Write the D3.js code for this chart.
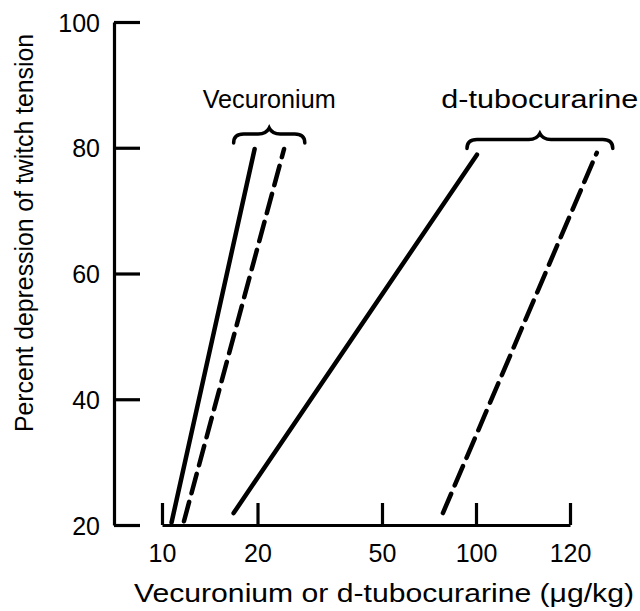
<!DOCTYPE html>
<html>
<head>
<meta charset="utf-8">
<script src="https://cdn.jsdelivr.net/npm/d3@7"></script>
<style>
  html, body { margin: 0; padding: 0; background: #fff; }
  svg text { font-family: "Liberation Sans", Arial, sans-serif; fill: #000; }
</style>
</head>
<body>
<svg id="chart" width="640" height="611"></svg>
<script>
// axis ticks
var xTicks = [10, 20, 50, 100, 120];
var yTicks = [20, 40, 60, 80, 100];

// dose (ug/kg) vs percent depression, two ends of each fitted line
var vecuroniumSolid = [{dose: 11.0, pct: 20.4}, {dose: 19.7, pct: 79.8}];
var vecuroniumDashed = [{dose: 12.3, pct: 20.6}, {dose: 26.4, pct: 79.8}];
var tubocurarineSolid = [{dose: 17.5, pct: 21.9}, {dose: 100.2, pct: 78.9}];
var tubocurarineDashed = [{dose: 82.4, pct: 21.9}, {dose: 125.7, pct: 79.2}];

// group labels and the braces above them (dose span, height in percent)
var groupNames = ['Vecuronium', 'd-tubocurarine'];
var braceSpans = [[17.5, 31.4], [95.2, 129.1]];
var braceLevels = [82.2, 81.3];

var svg = d3.select('#chart');

// the dose axis is drawn with uneven spacing, map it piece by piece
var x = d3.scaleLinear().domain(xTicks).range([162, 257.5, 382, 476, 570]);
var y = d3.scaleLinear().domain([20, 100]).range([525, 22]);

var yAxis = svg.append('g')
    .attr('transform', 'translate(114,0)')
    .call(d3.axisLeft(y).tickValues(yTicks).tickSizeInner(-26).tickSizeOuter(0).tickPadding(14));
var xAxis = svg.append('g')
    .attr('transform', 'translate(0,525)')
    .call(d3.axisBottom(x).tickValues(xTicks).tickSizeInner(-22).tickSizeOuter(0).tickPadding(19));

[yAxis, xAxis].forEach(function (g) {
    g.select('.domain').attr('stroke', '#000').attr('stroke-width', 3.2);
    g.selectAll('.tick line').attr('stroke', '#000').attr('stroke-width', 3.2);
    g.selectAll('.tick text')
        .attr('font-family', '"Liberation Sans", Arial, sans-serif')
        .attr('font-size', 25)
        .attr('fill', '#000');
});
yAxis.selectAll('.tick text').attr('dy', '0.36em');

var line = d3.line()
    .x(function (d) { return x(d.dose); })
    .y(function (d) { return y(d.pct); });

var series = [
    {data: vecuroniumSolid, dash: null},
    {data: vecuroniumDashed, dash: '20,9'},
    {data: tubocurarineSolid, dash: null},
    {data: tubocurarineDashed, dash: '21,9'}
];
svg.append('g').selectAll('path')
    .data(series)
    .enter().append('path')
    .attr('d', function (d) { return line(d.data); })
    .attr('fill', 'none')
    .attr('stroke', '#000')
    .attr('stroke-width', 4.5)
    .attr('stroke-linecap', 'round')
    .attr('stroke-dasharray', function (d) { return d.dash; });

// curly braces
function bracePath(span, level) {
    var x0 = x(span[0]), x1 = x(span[1]), yy = y(level), xm = (x0 + x1) / 2;
    return 'M' + x0 + ',' + (yy + 9) +
        ' Q' + x0 + ',' + yy + ' ' + (x0 + 10) + ',' + yy +
        ' L' + (xm - 11) + ',' + yy +
        ' Q' + (xm - 3) + ',' + yy + ' ' + xm + ',' + (yy - 6) +
        ' Q' + (xm + 3) + ',' + yy + ' ' + (xm + 11) + ',' + yy +
        ' L' + (x1 - 10) + ',' + yy +
        ' Q' + x1 + ',' + yy + ' ' + x1 + ',' + (yy + 9);
}
svg.append('g').selectAll('path')
    .data(braceSpans)
    .enter().append('path')
    .attr('d', function (d, i) { return bracePath(d, braceLevels[i]); })
    .attr('fill', 'none')
    .attr('stroke', '#000')
    .attr('stroke-width', 3.5)
    .attr('stroke-linecap', 'round');

var labelWidths = [133, 197];
svg.append('g').selectAll('text')
    .data(groupNames)
    .enter().append('text')
    .attr('x', function (d, i) { return (x(braceSpans[i][0]) + x(braceSpans[i][1])) / 2; })
    .attr('y', 108)
    .attr('text-anchor', 'middle')
    .attr('font-size', 26)
    .attr('textLength', function (d, i) { return labelWidths[i]; })
    .attr('lengthAdjust', 'spacingAndGlyphs')
    .text(function (d) { return d; });

// axis titles
svg.append('text')
    .attr('x', 384)
    .attr('y', 602)
    .attr('text-anchor', 'middle')
    .attr('font-size', 26)
    .attr('textLength', 500)
    .attr('lengthAdjust', 'spacingAndGlyphs')
    .text('Vecuronium or d-tubocurarine (\u03bcg/kg)');

svg.append('text')
    .attr('transform', 'translate(33,233) rotate(-90)')
    .attr('text-anchor', 'middle')
    .attr('font-size', 26)
    .attr('textLength', 398)
    .attr('lengthAdjust', 'spacingAndGlyphs')
    .text('Percent depression of twitch tension');
</script>
</body>
</html>
